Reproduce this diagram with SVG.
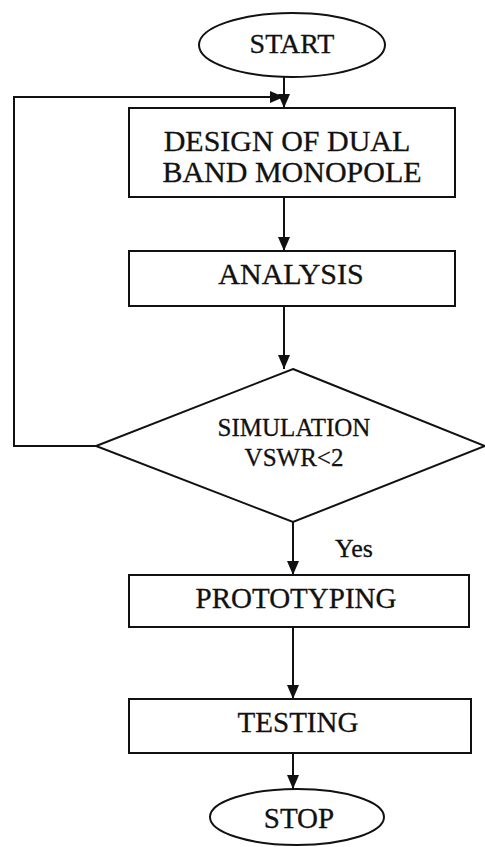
<svg xmlns="http://www.w3.org/2000/svg" width="485" height="847" viewBox="0 0 485 847">
<style>
.shape{fill:#fff;stroke:#111;stroke-width:2}
.lbl{font-family:'Liberation Serif','DejaVu Serif',serif;fill:#111;text-anchor:middle;stroke:#111;stroke-width:0.3}
.conn{fill:none;stroke:#111;stroke-width:2}
</style>
<defs>
<marker id="arr" markerUnits="userSpaceOnUse" markerWidth="14" markerHeight="14" viewBox="0 0 14 14" refX="14" refY="7" orient="auto">
<path d="M0,1 L14,7 L0,13 Z" fill="#111"/>
</marker>
</defs>
<rect width="485" height="847" fill="#fff"/>
<g id="connectors">
<path class="conn" d="M284,77 V108" marker-end="url(#arr)"/>
<path class="conn" d="M96,446 H14 V97 H284" marker-end="url(#arr)"/>
<path class="conn" d="M284,197 V251" marker-end="url(#arr)"/>
<path class="conn" d="M284,306 V369" marker-end="url(#arr)"/>
<path class="conn" d="M293,522 V575" marker-end="url(#arr)"/>
<path class="conn" d="M293,627 V699" marker-end="url(#arr)"/>
<path class="conn" d="M293,753 V789" marker-end="url(#arr)"/>
<text class="lbl" x="354" y="557" font-size="26">Yes</text>
</g>
<g id="start">
<ellipse class="shape" cx="292" cy="45" rx="93" ry="32"/>
<text class="lbl" x="292" y="53" font-size="28">START</text>
</g>
<g id="design">
<rect class="shape" x="129" y="108" width="326" height="89"/>
<text class="lbl" x="287" y="151" font-size="30">DESIGN OF DUAL</text>
<text class="lbl" x="292" y="182" font-size="30">BAND MONOPOLE</text>
</g>
<g id="analysis">
<rect class="shape" x="129" y="251" width="326" height="55"/>
<text class="lbl" x="291" y="284" font-size="30">ANALYSIS</text>
</g>
<g id="simulation">
<polygon class="shape" points="293,369 485,446 293,522 96,446"/>
<text class="lbl" x="294" y="436" font-size="25">SIMULATION</text>
<text class="lbl" x="294" y="466" font-size="25">VSWR&lt;2</text>
</g>
<g id="prototyping">
<rect class="shape" x="129" y="575" width="340" height="52"/>
<text class="lbl" x="296" y="608" font-size="29">PROTOTYPING</text>
</g>
<g id="testing">
<rect class="shape" x="129" y="699" width="342" height="54"/>
<text class="lbl" x="298" y="732" font-size="29">TESTING</text>
</g>
<g id="stop">
<ellipse class="shape" cx="297" cy="817" rx="87" ry="28"/>
<text class="lbl" x="299" y="828" font-size="29">STOP</text>
</g>
</svg>
